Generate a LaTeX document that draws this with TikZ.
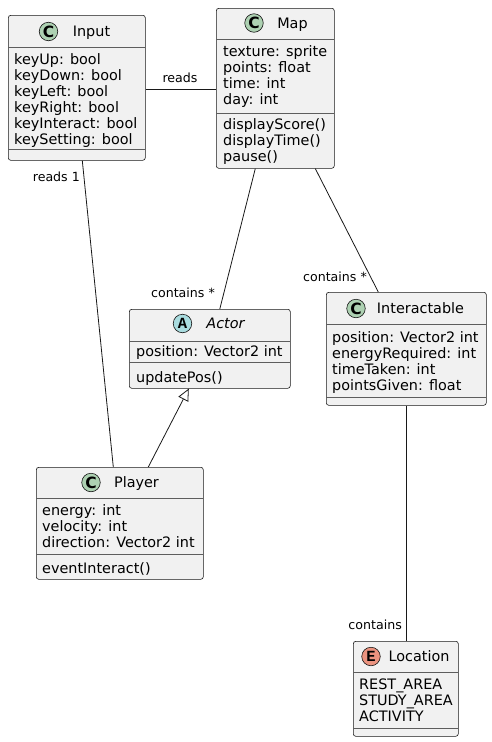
\documentclass[tikz,border=0pt]{standalone}
\usepackage{fontspec}
\setmainfont{DejaVu Sans}
\newfontfamily\badgesans{DejaVu Sans}
\newfontfamily\badgemono{Liberation Mono}
\usetikzlibrary{arrows.meta}
\definecolor{boxfill}{HTML}{F1F1F1}
\definecolor{ink}{HTML}{181818}
\definecolor{cgreen}{HTML}{ADD1B2}
\definecolor{ablue}{HTML}{A9DCDF}
\definecolor{ered}{HTML}{EB937F}
\tikzset{
  classbox/.style={draw=ink, fill=boxfill, line width=0.6pt, rounded corners=2.5pt,
    inner sep=0pt, anchor=north west},
  divider/.style={draw=ink!70, line width=0.6pt},
  member/.style={anchor=base west, inner sep=0pt, font=\fontsize{14.4}{16}\selectfont},
  cname/.style={anchor=base, inner sep=0pt, font=\fontsize{14.4}{16}\selectfont},
  lbl/.style={inner sep=0pt, font=\fontsize{12.6}{14}\selectfont},
  conn/.style={draw=ink, line width=0.8pt},
  badge/.style={circle, draw=ink, line width=0.6pt, minimum size=18.5pt, inner sep=0pt,
    font=\fontsize{15.5}{15.5}\selectfont\bfseries},
}
\begin{document}
\begin{tikzpicture}[x=1pt, y=-1pt]
\useasboundingbox (0,0) rectangle (492,742);

% ---------- Input ----------
\node[classbox, minimum width=137pt, minimum height=145pt] (input) at (8,15) {};
\draw[divider] (8,47) -- (145,47);
\draw[divider] (8,149) -- (145,149);
\node[badge, fill=cgreen] (inputC) at (48.5,31.5) {\badgesans C};
\node[cname] (inputN) at (91.5,36.5) {Input};
\node[member] (in1) at (14,64) {keyUp: bool};
\node[member] (in2) at (14,80) {keyDown: bool};
\node[member] (in3) at (14,96) {keyLeft: bool};
\node[member] (in4) at (14,112) {keyRight: bool};
\node[member] (in5) at (14,128) {keyInteract: bool};
\node[member] (in6) at (14,144) {keySetting: bool};

% ---------- Map ----------
\node[classbox, minimum width=118pt, minimum height=160pt] (map) at (216,8) {};
\draw[divider] (216,39) -- (334,39);
\draw[divider] (216,113) -- (334,113);
\node[badge, fill=cgreen] (mapC) at (254,23) {\badgesans C};
\node[cname] (mapN) at (292.5,28) {Map};
\node[member] (mp1) at (223,56) {texture: sprite};
\node[member] (mp2) at (223,72) {points: float};
\node[member] (mp3) at (223,88) {time: int};
\node[member] (mp4) at (223,104) {day: int};
\node[member] (mp5) at (223,129) {displayScore()};
\node[member] (mp6) at (223,145) {displayTime()};
\node[member] (mp7) at (223,161) {pause()};

% ---------- Actor (abstract) ----------
\node[classbox, minimum width=161pt, minimum height=79pt] (actor) at (129,309) {};
\draw[divider] (129,341) -- (290,341);
\draw[divider] (129,362) -- (290,362);
\node[badge, fill=ablue] (actorA) at (182.5,323.5) {\badgemono A};
\node[cname, font=\fontsize{14.4}{16}\selectfont\itshape] (actorN) at (225.5,328.5) {Actor};
\node[member] (ac1) at (136,356) {position: Vector2 int};
\node[member] (ac2) at (136,382) {updatePos()};

% ---------- Interactable ----------
\node[classbox, minimum width=160pt, minimum height=113pt] (inter) at (326,292) {};
\draw[divider] (326,324) -- (486,324);
\draw[divider] (326,397) -- (486,397);
\node[badge, fill=cgreen] (interC) at (356,308.5) {\badgesans C};
\node[cname] (interN) at (420.5,313.5) {Interactable};
\node[member] (it1) at (332,342) {position: Vector2 int};
\node[member] (it2) at (332,358) {energyRequired: int};
\node[member] (it3) at (332,374) {timeTaken: int};
\node[member] (it4) at (332,390) {pointsGiven: float};

% ---------- Player ----------
\node[classbox, minimum width=167pt, minimum height=112pt] (player) at (36,467) {};
\draw[divider] (36,498) -- (203,498);
\draw[divider] (36,554) -- (203,554);
\node[badge, fill=cgreen] (playerC) at (91,482.5) {\badgesans C};
\node[cname] (playerN) at (136.5,487.5) {Player};
\node[member] (pl1) at (42,515) {energy: int};
\node[member] (pl2) at (42,531) {velocity: int};
\node[member] (pl3) at (42,547) {direction: Vector2 int};
\node[member] (pl4) at (42,573) {eventInteract()};

% ---------- Location (enum) ----------
\node[classbox, minimum width=105pt, minimum height=95pt] (loc) at (353,641) {};
\draw[divider] (353,672) -- (458,672);
\draw[divider] (353,728) -- (458,728);
\node[badge, fill=ered] (locE) at (371,656.5) {\badgemono E};
\node[cname] (locN) at (419,661.5) {Location};
\node[member] (lc1) at (359,689) {REST\_AREA};
\node[member] (lc2) at (359,705) {STUDY\_AREA};
\node[member] (lc3) at (359,721) {ACTIVITY};

% ---------- Relations ----------
\draw[conn] ([yshift=-1.5pt]input.east) -- ([yshift=-1.5pt]input.east -| map.west);
\node[lbl, anchor=base] (lReads) at (180,82) {reads};

\draw[conn] ([xshift=5.5pt]input.south) -- ([xshift=-6.5pt]player.north);
\node[lbl, anchor=base east] (lReads1) at (80,181) {reads 1};

\draw[conn] ([xshift=-20pt]map.south) -- ([xshift=10pt]actor.north);
\node[lbl, anchor=base east] (lCont1) at (215,297) {contains *};

\draw[conn] ([xshift=40pt]map.south) -- ([xshift=-28pt]inter.north);
\node[lbl, anchor=base east] (lCont2) at (367,281) {contains *};

\draw[conn, {Triangle[open, length=12pt, width=11pt]}-] ([xshift=-21pt]actor.south) -- ([xshift=28.5pt]player.north);

\draw[conn] ([xshift=0.5pt]inter.south) -- ([xshift=0.5pt]inter.south |- loc.north);
\node[lbl, anchor=base east] (lCont3) at (402,629) {contains};
\end{tikzpicture}
\end{document}
